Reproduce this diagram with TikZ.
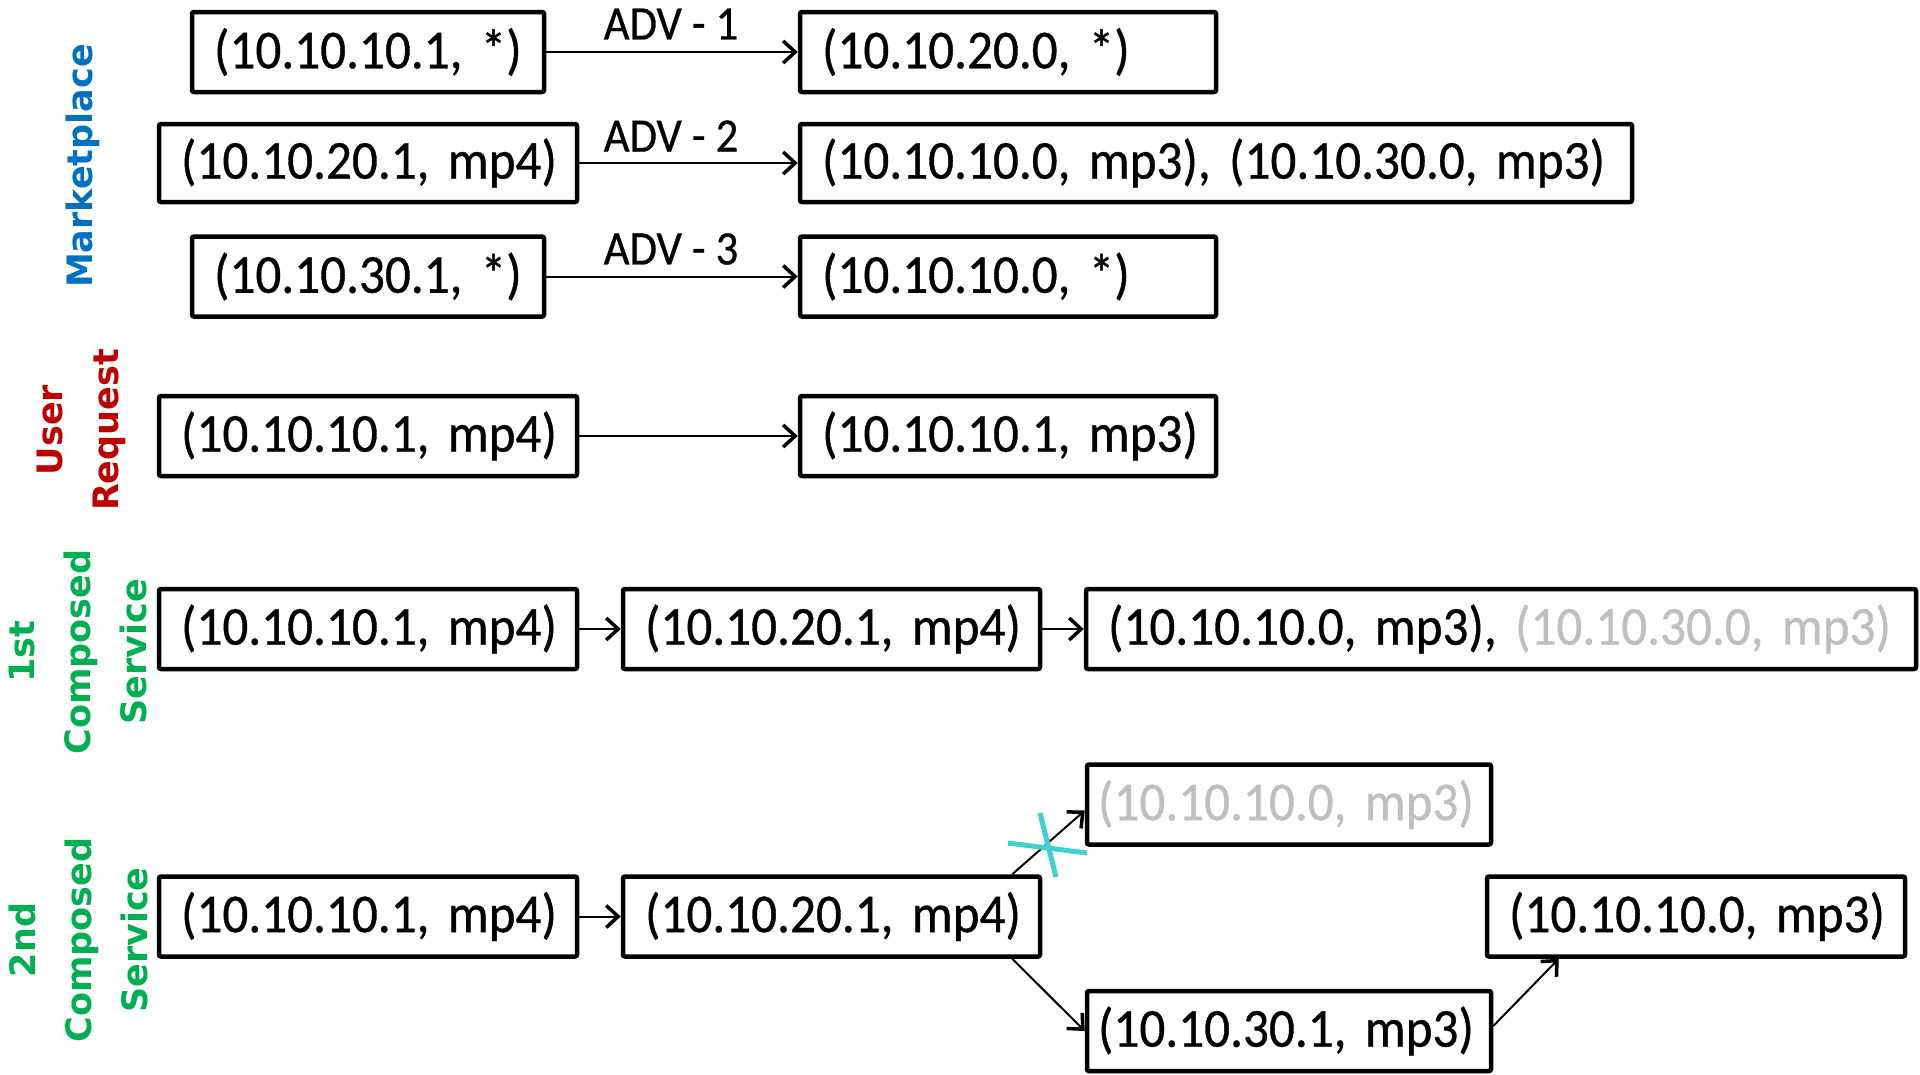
\documentclass[tikz,border=0pt]{standalone}
\usepackage{fontspec}
\setmainfont{Carlito}[FakeStretch=0.93,FakeBold=0.6]
\newfontfamily\labfont{DejaVu Sans}
\usetikzlibrary{arrows.meta,calc}
\definecolor{mblue}{RGB}{0,112,192}
\definecolor{ured}{RGB}{192,0,0}
\definecolor{cgreen}{RGB}{0,176,80}
\definecolor{greytxt}{RGB}{191,191,191}
\definecolor{xcyan}{RGB}{64,208,208}
\begin{document}
\begin{tikzpicture}[x=1pt,y=-1pt,
  box/.style={draw, line width=4.5pt, rounded corners=2pt, minimum height=80pt,
    inner ysep=0pt, inner xsep=22pt, align=left,
    font=\fontsize{55}{62}\selectfont},
  conn/.style={line width=2pt, -{Straight Barb[length=12pt,width=22pt,line width=3.5pt]}},
  advlab/.style={font=\fontsize{48}{54}\selectfont, inner sep=0pt},
  side/.style={rotate=90, align=center, inner sep=0pt,
    font=\labfont\bfseries\fontsize{35}{56}\selectfont},
  xline/.style={draw=xcyan, line width=5pt}
]
\useasboundingbox (0,0) rectangle (1920,1074);

% side labels
\node[side, text=mblue] (lmarket) at (83,166) {Marketplace};
\node[side, text=ured] (luser) at (81,430) {User\\Request};
\node[side, text=cgreen] (lfirst) at (78,652) {1st\\Composed\\Service};
\node[side, text=cgreen] (lsecond) at (78,940) {2nd\\Composed\\Service};

% marketplace
\node[box, text width=308pt] (A1) at (368,52) {(10.10.10.1,~*)};
\node[box, text width=372pt] (B1) at (1008,52) {(10.10.20.0,~*)};
\node[box, text width=374pt, minimum height=78pt] (A2) at (368,163) {(10.10.20.1,~mp4)};
\node[box, text width=788pt, minimum height=78pt] (B2) at (1216,163) {(10.10.10.0,~mp3),~(10.10.30.0,~mp3)};
\node[box, text width=308pt] (A3) at (368,276.5) {(10.10.30.1,~*)};
\node[box, text width=372pt] (B3) at (1008,276.5) {(10.10.10.0,~*)};

\draw[conn] (A1.east) -- (B1.west);
\draw[conn] (A2.east) -- (B2.west);
\draw[conn] (A3.east) -- (B3.west);
\node[advlab] (adv1) at (671,24) {ADV - 1};
\node[advlab] (adv2) at (671,136) {ADV - 2};
\node[advlab] (adv3) at (671,249) {ADV - 3};

% user request
\node[box, text width=374pt] (A4) at (368,436) {(10.10.10.1,~mp4)};
\node[box, text width=372pt] (B4) at (1008,436) {(10.10.10.1,~mp3)};
\draw[conn] (A4.east) -- (B4.west);

% 1st composed service
\node[box, text width=374pt] (C1) at (368,629) {(10.10.10.1,~mp4)};
\node[box, text width=373pt] (C2) at (831.5,629) {(10.10.20.1,~mp4)};
\node[box, text width=786pt] (C3) at (1501,629) {(10.10.10.0,~mp3),~\textcolor{greytxt}{(10.10.30.0,~mp3)}};
\draw[conn] (C1.east) -- (C2.west);
\draw[conn] (C2.east) -- (C3.west);

% 2nd composed service
\node[box, text width=374pt] (D1) at (368,916.5) {(10.10.10.1,~mp4)};
\node[box, text width=373pt] (D2) at (831.5,916.5) {(10.10.20.1,~mp4)};
\node[box, text width=382pt, inner xsep=11pt, text=greytxt] (D3) at (1289,804.5) {(10.10.10.0,~mp3)};
\node[box, text width=374pt] (D4) at (1696,916.5) {(10.10.10.0,~mp3)};
\node[box, text width=382pt, inner xsep=11pt] (D5) at (1289,1031) {(10.10.30.1,~mp3)};

\draw[conn] (D1.east) -- (D2.west);
\draw[conn] ($(D2.north east)+(-30,0)$) -- ($(D3.west)+(0,6)$);
\draw[conn] ($(D2.south east)+(-30,0)$) -- (D5.west);
\draw[conn] ($(D5.east)+(0,-5)$) -- ($(D4.south west)+(74,0)$);

% cross
\draw[xline] (1008,843) -- (1087,853);
\draw[xline] (1040,813) -- (1056,877);
\end{tikzpicture}
\end{document}
